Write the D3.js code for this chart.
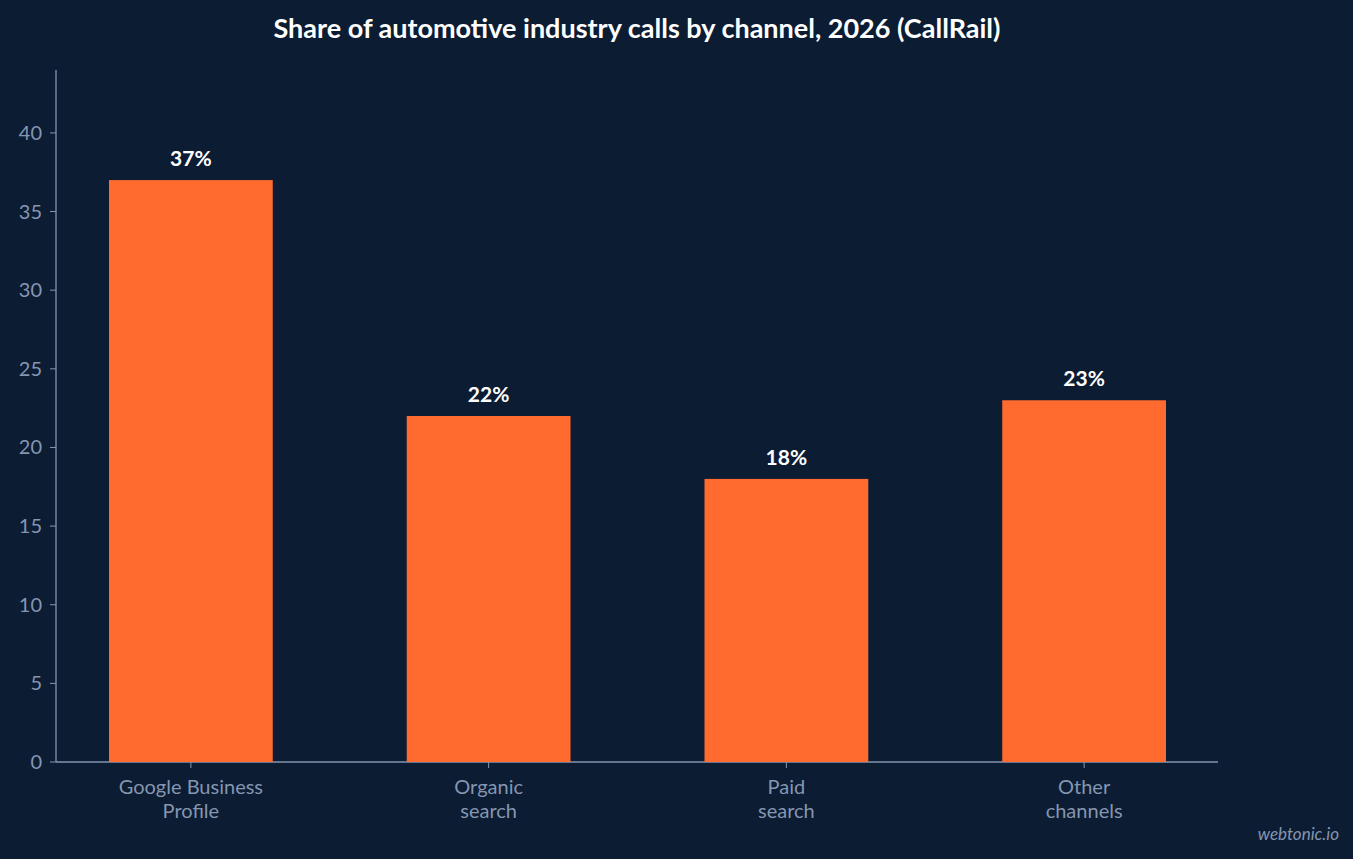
<!DOCTYPE html>
<html><head><meta charset="utf-8">
<script src="https://cdn.jsdelivr.net/npm/d3@7"></script>
<style>
html,body{margin:0;background:#0b1c33;}
text{font-family:Lato,sans-serif;}
</style></head>
<body><div id="chart"></div>
<script>
// data
var categories = [["Google Business","Profile"],["Organic","search"],["Paid","search"],["Other","channels"]];
var values = [37, 22, 18, 23];
var yTicks = [0,5,10,15,20,25,30,35,40];

var W = 1353, H = 859;
var svg = d3.select("#chart").append("svg").attr("width", W).attr("height", H)
  .style("background", "#0b1c33");

var x = d3.scaleBand().domain(d3.range(values.length)).range([42, 1233])
  .paddingInner(0.45).paddingOuter(0.225);
var y = d3.scaleLinear().domain([0, 44]).range([762, 70]);

svg.append("text").attr("x", 637).attr("y", 38).attr("text-anchor", "middle")
  .attr("fill", "#fff").attr("font-size", 27).attr("font-weight", "bold")
  .text("Share of automotive industry calls by channel, 2026 (CallRail)");

var axisCol = "#8596b0";
// axes lines
svg.append("line").attr("x1", 56).attr("x2", 56).attr("y1", 70).attr("y2", 762)
  .attr("stroke", axisCol).attr("stroke-width", 1.3);
svg.append("line").attr("x1", 56).attr("x2", 1218).attr("y1", 762).attr("y2", 762)
  .attr("stroke", axisCol).attr("stroke-width", 1.3);

yTicks.forEach(function(t){
  svg.append("line").attr("x1", 50).attr("x2", 56).attr("y1", y(t)).attr("y2", y(t))
    .attr("stroke", axisCol);
  svg.append("text").attr("x", 42).attr("y", y(t)).attr("dy", "0.35em")
    .attr("text-anchor", "end").attr("fill", axisCol).attr("font-size", 20).text(t);
});

svg.selectAll(".bar").data(values).enter().append("rect")
  .attr("x", function(d,i){ return x(i); })
  .attr("y", function(d){ return y(d); })
  .attr("width", x.bandwidth())
  .attr("height", function(d){ return y(0) - y(d); })
  .attr("fill", "#ff6b2e");

svg.selectAll(".lab").data(values).enter().append("text")
  .attr("x", function(d,i){ return x(i) + x.bandwidth()/2; })
  .attr("y", function(d){ return y(d) - 14; })
  .attr("text-anchor", "middle").attr("fill", "#fff")
  .attr("font-size", 21).attr("font-weight", "bold")
  .text(function(d){ return d + "%"; });

categories.forEach(function(c, i){
  var cx = x(i) + x.bandwidth()/2;
  var t = svg.append("text").attr("text-anchor", "middle").attr("fill", axisCol)
    .attr("font-size", 20);
  c.forEach(function(line, k){
    t.append("tspan").attr("x", cx).attr("y", 794 + k*24).text(line);
  });
  svg.append("line").attr("x1", cx).attr("x2", cx).attr("y1", 762).attr("y2", 768)
    .attr("stroke", axisCol);
});

svg.append("text").attr("x", 1339).attr("y", 840).attr("text-anchor", "end")
  .attr("fill", axisCol).attr("font-size", 17).attr("font-style", "italic")
  .text("webtonic.io");
</script></body></html>
